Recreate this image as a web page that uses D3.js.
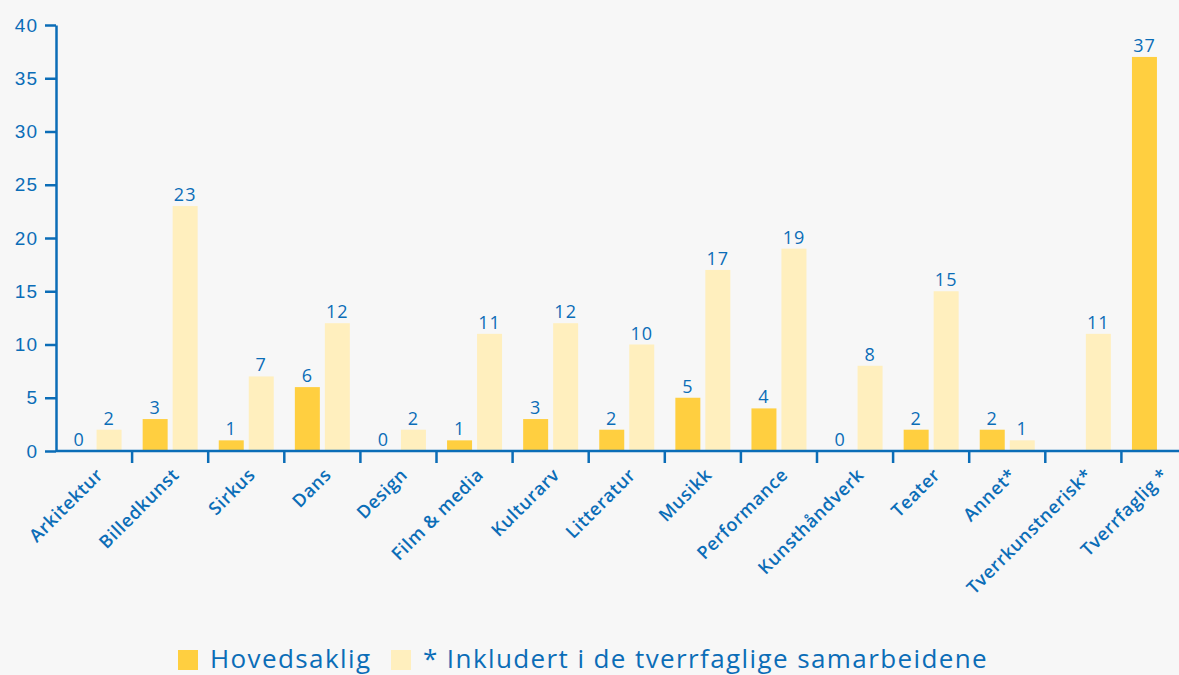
<!DOCTYPE html>
<html>
<head>
<meta charset="utf-8">
<script src="https://cdn.jsdelivr.net/npm/d3@7"></script>
<style>
  html, body { margin: 0; padding: 0; background: #f7f7f7; }
  svg { display: block; font-family: "Open Sans", "Noto Sans", sans-serif; }
</style>
</head>
<body>
<div id="chart"></div>
<script>
// chart values
const categories = ["Arkitektur", "Billedkunst", "Sirkus", "Dans", "Design", "Film & media",
  "Kulturarv", "Litteratur", "Musikk", "Performance", "Kunsthåndverk", "Teater",
  "Annet*", "Tverrkunstnerisk*", "Tverrfaglig *"];
const hovedsaklig = [0, 3, 1, 6, 0, 1, 3, 2, 5, 4, 0, 2, 2, null, 37];
const inkludert = [2, 23, 7, 12, 2, 11, 12, 10, 17, 19, 8, 15, 1, 11, null];
const seriesNames = ["Hovedsaklig", "* Inkludert i de tverrfaglige samarbeidene"];
const yTicks = [0, 5, 10, 15, 20, 25, 30, 35, 40];

const width = 1179, height = 675;
const blue = "#0b6db7";
const colors = ["#ffcf40", "#ffefbe"];
const margin = { top: 25, left: 56, bottom: 224 };
const step = 76.1;

const svg = d3.select("#chart").append("svg")
  .attr("width", width)
  .attr("height", height);

svg.append("rect").attr("width", width).attr("height", height).attr("fill", "#f7f7f7");

const x = d3.scaleBand()
  .domain(categories)
  .range([margin.left, margin.left + step * categories.length]);

const x1 = d3.scaleBand()
  .domain([0, 1])
  .range([0, x.bandwidth()])
  .paddingInner(0.1667)
  .paddingOuter(0.352);

const y = d3.scaleLinear()
  .domain([0, 40])
  .range([height - margin.bottom, margin.top]);

// bars + value labels
const series = [hovedsaklig, inkludert];
series.forEach((vals, s) => {
  const data = categories.map((c, i) => ({ c, v: vals[i] })).filter(d => d.v !== null);
  const g = svg.append("g");
  g.selectAll("rect").data(data).enter().append("rect")
    .attr("x", d => x(d.c) + x1(s))
    .attr("width", x1.bandwidth())
    .attr("y", d => y(d.v))
    .attr("height", d => y(0) - y(d.v))
    .attr("fill", colors[s]);
  g.selectAll("text").data(data).enter().append("text")
    .attr("x", d => x(d.c) + x1(s) + x1.bandwidth() / 2)
    .attr("y", d => y(d.v) - 5)
    .attr("text-anchor", "middle")
    .attr("fill", blue)
    .style("font-size", "18px")
    .style("letter-spacing", "1px")
    .text(d => d.v);
});

// y axis
const yAxis = svg.append("g")
  .attr("transform", `translate(${margin.left},0)`)
  .call(d3.axisLeft(y).tickValues(yTicks).tickSize(11).tickPadding(7).tickSizeOuter(0));
yAxis.select(".domain").attr("stroke", blue).attr("stroke-width", 2.5);
yAxis.selectAll(".tick line").attr("stroke", blue).attr("stroke-width", 2.5);
yAxis.selectAll(".tick text").attr("fill", blue)
  .style("font-size", "19px").style("letter-spacing", "1px").style("font-family", null);

// x axis line + boundary ticks
svg.append("line")
  .attr("x1", margin.left).attr("x2", width)
  .attr("y1", y(0)).attr("y2", y(0))
  .attr("stroke", blue).attr("stroke-width", 2.5);

svg.append("g").selectAll("line")
  .data(categories.slice(1))
  .enter().append("line")
  .attr("x1", d => x(d)).attr("x2", d => x(d))
  .attr("y1", y(0)).attr("y2", y(0) + 12)
  .attr("stroke", blue).attr("stroke-width", 2.5);

// category labels
svg.append("g").selectAll("text")
  .data(categories)
  .enter().append("text")
  .attr("transform", d => `translate(${x(d) + x.bandwidth() / 2 + 10},${y(0) + 25}) rotate(-45)`)
  .attr("text-anchor", "end")
  .attr("fill", blue)
  .style("font-size", "18px")
  .style("font-weight", 600)
  .style("letter-spacing", "0.6px")
  .text(d => d);

// legend
const legend = svg.append("g");
const legendItems = [
  { name: seriesNames[0], x: 178, color: colors[0] },
  { name: seriesNames[1], x: 391, color: colors[1] }
];
legendItems.forEach(it => {
  legend.append("rect")
    .attr("x", it.x).attr("y", 650)
    .attr("width", 20).attr("height", 20)
    .attr("fill", it.color);
  legend.append("text")
    .attr("x", it.x + 32).attr("y", 668)
    .attr("fill", blue)
    .style("font-size", "26px")
    .style("letter-spacing", "1.4px")
    .text(it.name);
});
</script>
</body>
</html>
